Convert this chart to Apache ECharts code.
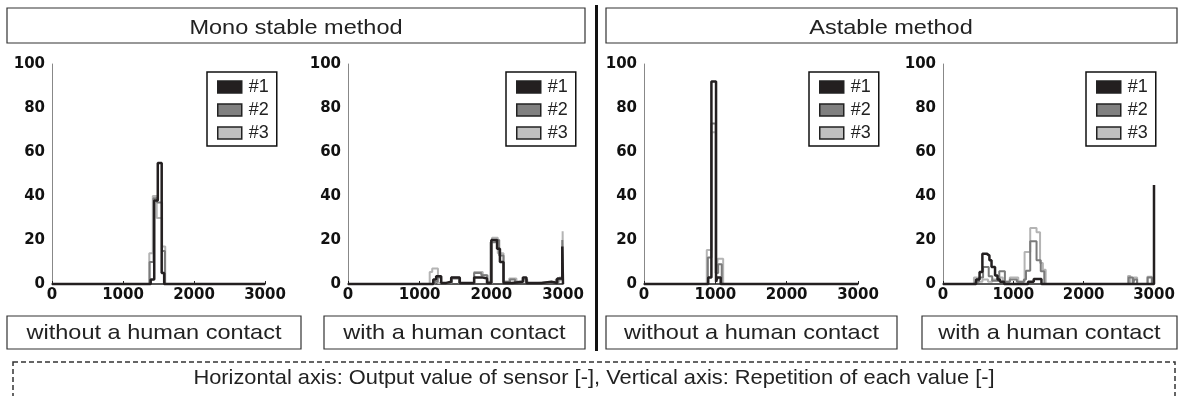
<!DOCTYPE html>
<html lang="en">
<head>
<meta charset="UTF-8" />
<title>Sensor output histograms</title>
<style>
  * { margin: 0; padding: 0; box-sizing: border-box; }
  body { background: #fff; }
  #chart { width: 1185px; height: 396px; }
</style>
</head>
<body>
<div id="chart"></div>
<script src="https://cdn.jsdelivr.net/npm/echarts@6/dist/echarts.min.js"></script>
<script>
// histogram outlines: [left edge of bin, count]
const monoOff1 = [[1390, 2], [1440, 38], [1490, 55], [1545, 5], [1580, 0]];
const monoOff2 = [[1375, 10], [1430, 39], [1480, 37], [1550, 15], [1590, 0]];
const monoOff3 = [[1370, 14], [1420, 40], [1475, 30], [1550, 17], [1595, 0]];

const monoOn1 = [[1190, 2], [1230, 3.5], [1300, 0.5], [1370, 1], [1440, 3], [1560, 0.5], [1760, 3], [1870, 2.5],
  [1940, 0.5], [2000, 20], [2080, 16], [2120, 10], [2170, 0.5], [2290, 1], [2440, 3], [2490, 0.5], [2700, 1],
  [2840, 0.5], [2920, 2.5], [2990, 17]];
const monoOn2 = [[1210, 1], [1250, 3], [1300, 0.5], [1450, 2.5], [1550, 0.5], [1760, 5], [1860, 4], [1940, 1],
  [1990, 19], [2060, 20], [2110, 13], [2170, 1], [2260, 2], [2330, 1], [2440, 2], [2500, 0.5], [2700, 1],
  [2900, 2], [2990, 20]];
const monoOn3 = [[1140, 5.5], [1175, 7], [1255, 0.5], [1440, 3], [1550, 0.5], [1760, 5.5], [1880, 4], [1950, 0.5],
  [2010, 21], [2090, 14], [2170, 1], [2250, 2.5], [2350, 1], [2440, 1.5], [2500, 0.5], [2650, 1], [2950, 3],
  [2995, 24]];

const astOff1 = [[900, 3], [945, 92], [1010, 1], [1030, 3], [1075, 0]];
const astOff2 = [[895, 12], [945, 73], [1005, 5], [1040, 9], [1090, 0]];
const astOff3 = [[880, 15.5], [945, 69], [1010, 6], [1035, 11.5], [1110, 0]];

const astOn1 = [[470, 2], [520, 5.5], [560, 13.8], [620, 12.9], [660, 10.8], [690, 7.7], [740, 3.9], [775, 2],
  [810, 1], [870, 0], [1210, 1], [1290, 2.3], [1400, 0], [3000, 45]];
const astOn2 = [[460, 1], [510, 3], [570, 7.7], [650, 3.5], [700, 1.5], [800, 5.8], [880, 1], [950, 2], [1050, 1],
  [1150, 2], [1180, 6], [1240, 19.4], [1330, 10.8], [1390, 5.8], [1440, 0], [2640, 3], [2700, 0], [2720, 2],
  [2760, 0], [2910, 3], [2970, 0]];
const astOn3 = [[440, 3], [490, 1], [560, 2], [640, 1], [700, 2], [800, 3], [850, 1], [950, 3], [1070, 1],
  [1160, 14.5], [1240, 25.5], [1330, 23.5], [1380, 9.5], [1420, 6.5], [1460, 0], [2630, 3.6], [2665, 0],
  [2710, 2.9], [2760, 0], [2905, 3.3], [2970, 0]];

const names = ['#1', '#2', '#3'];
const lineColors = ['#231f20', '#7a7a7a', '#b4b4b4'];
const fillColors = ['#231f20', '#808080', '#c0c0c0'];
const xTicks = [0, 1000, 2000, 3000];
const yTicks = [0, 20, 40, 60, 80, 100];

const panels = [
  [monoOff1, monoOff2, monoOff3],
  [monoOn1, monoOn2, monoOn3],
  [astOff1, astOff2, astOff3],
  [astOn1, astOn2, astOn3]
];
const panelTitles = ['without a human contact', 'with a human contact', 'without a human contact', 'with a human contact'];

// layout (pixels)
const grids = [
  { left: 52, top: 64, width: 213, height: 220 },
  { left: 348, top: 64, width: 215, height: 220 },
  { left: 644, top: 64, width: 214, height: 220 },
  { left: 943, top: 64, width: 211, height: 220 }
];
const legendPos = [207, 506, 809, 1086];
const subBoxes = [[7, 301], [324, 585], [606, 897], [922, 1177]];

const labelFont = { fontFamily: 'DejaVu Sans', fontWeight: 'bold', fontSize: 15, color: '#111' };
const textFont = '21px Liberation Sans';

function steps(pts) {
  return [[0, 0]].concat(pts, [[3000, 0]]);
}

// the source lettering is a little wider than Liberation Sans
function label(text, x, y, stretch) {
  return {
    type: 'text', x: x, y: y, scaleX: stretch || 1.12,
    style: { text: text, font: textFont, fill: '#222', textAlign: 'center', textVerticalAlign: 'middle' }
  };
}

const chart = echarts.init(document.getElementById('chart'), null, { renderer: 'canvas' });

const series = [];
panels.forEach((p, gi) => {
  [2, 1, 0].forEach(k => {
    series.push({
      name: names[k],
      type: 'line',
      step: 'end',
      xAxisIndex: gi,
      yAxisIndex: gi,
      symbol: 'none',
      clip: false,
      z: 3 - k,
      itemStyle: { color: fillColors[k] },
      lineStyle: { color: lineColors[k], width: k === 0 ? 2.5 : 2 },
      data: steps(p[k])
    });
  });
});

const boxStyle = { fill: 'none', stroke: '#333', lineWidth: 1.2 };
const graphic = [];
// header boxes
graphic.push({ type: 'rect', shape: { x: 7, y: 8, width: 578, height: 35 }, style: boxStyle });
graphic.push(label('Mono stable method', 296, 28));
graphic.push({ type: 'rect', shape: { x: 606, y: 8, width: 571, height: 35 }, style: boxStyle });
graphic.push(label('Astable method', 891, 28));
// divider
graphic.push({ type: 'line', shape: { x1: 596.5, y1: 5, x2: 596.5, y2: 351 }, style: { stroke: '#111', lineWidth: 3 } });
// sub titles
subBoxes.forEach((b, i) => {
  graphic.push({ type: 'rect', shape: { x: b[0], y: 316, width: b[1] - b[0], height: 33 }, style: boxStyle });
  graphic.push(label(panelTitles[i], (b[0] + b[1]) / 2, 333.5));
});
// dashed note box
graphic.push({ type: 'rect', shape: { x: 13, y: 362, width: 1162, height: 60 }, style: { fill: 'none', stroke: '#333', lineWidth: 1.5, lineDash: [5, 3] } });
graphic.push(label('Horizontal axis: Output value of sensor [-], Vertical axis: Repetition of each value [-]', 594, 378, 1.04));

chart.setOption({
  animation: false,
  backgroundColor: '#fff',
  grid: grids,
  xAxis: grids.map((g, i) => ({
    type: 'value', gridIndex: i, min: 0, max: 3000, interval: 1000,
    axisLine: { show: true, lineStyle: { color: '#222', width: 1.5 } },
    axisTick: { show: true, inside: true, length: 3, lineStyle: { color: '#222' } },
    axisLabel: Object.assign({ margin: 4, formatter: v => xTicks.includes(v) ? String(v) : '' }, labelFont),
    splitLine: { show: false }
  })),
  yAxis: grids.map((g, i) => ({
    type: 'value', gridIndex: i, min: 0, max: 100, interval: 20,
    axisLine: { show: true, lineStyle: { color: '#888', width: 1 } },
    axisTick: { show: false },
    axisLabel: Object.assign({ margin: 7, formatter: v => yTicks.includes(v) ? String(v) : '' }, labelFont),
    splitLine: { show: false }
  })),
  legend: legendPos.map(x => ({
    left: x, top: 72, orient: 'vertical',
    data: names.map((n, k) => ({ name: n, itemStyle: { color: fillColors[k], borderColor: '#222', borderWidth: 1.5 } })),
    icon: 'rect', itemWidth: 24, itemHeight: 12, itemGap: 5,
    padding: [6, 8, 4, 10],
    borderColor: '#111', borderWidth: 1.5,
    textStyle: { fontFamily: 'Liberation Sans', fontSize: 18, color: '#222', padding: [0, 0, 0, 2] },
    selectedMode: false
  })),
  graphic: graphic,
  series: series
});
</script>
</body>
</html>
